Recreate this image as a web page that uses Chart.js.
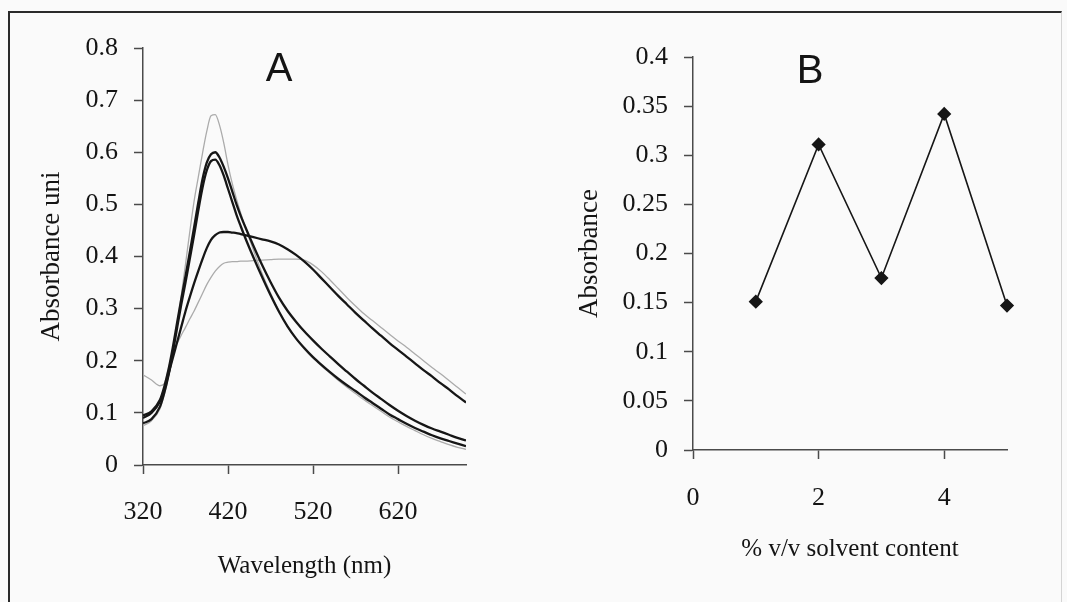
<!DOCTYPE html>
<html>
<head>
<meta charset="utf-8">
<script src="https://cdn.jsdelivr.net/npm/chart.js@4.4.1/dist/chart.umd.min.js"></script>
<style>
  html, body { margin: 0; padding: 0; background: #fafafa; }
  #page { position: relative; width: 1067px; height: 602px; overflow: hidden; background: #fafafa; }
  #frame { position: absolute; left: 8px; top: 11px; width: 1051px; height: 640px;
           border-left: 2px solid #2a2a2a; border-top: 2px solid #2a2a2a; border-right: 1px solid #d4d4d4; }
  #cA { position: absolute; left: 0; top: 0; }
  #cB { position: absolute; left: 560px; top: 0; }
</style>
</head>
<body>
<div id="page">
  <div id="frame"></div>
  <canvas id="cA" width="560" height="602"></canvas>
  <canvas id="cB" width="507" height="602"></canvas>
</div>
<script>
// ---- Panel A: absorption spectra ----
const wavelengths = [320, 330,
  340, 345, 350, 355, 360, 365, 370, 375, 380, 385, 390, 395, 400, 405, 410, 415, 420, 425, 430, 435, 440,
  450, 460, 470, 480, 490, 500, 510, 520, 530, 540, 550, 560, 570, 580, 590, 600, 610, 620, 630, 640, 650,
  660, 670, 680, 690, 700];

const spectrumGrayHigh = [0.075, 0.085,
  0.108, 0.135, 0.170, 0.215, 0.268, 0.325, 0.385, 0.447, 0.505, 0.552, 0.598, 0.640, 0.670, 0.672, 0.652,
  0.618, 0.576, 0.540, 0.510, 0.483, 0.458,
  0.412, 0.368, 0.330, 0.296, 0.266, 0.242, 0.222, 0.205, 0.190, 0.176, 0.162, 0.149, 0.137, 0.125, 0.114,
  0.103, 0.092, 0.083, 0.074, 0.066, 0.058, 0.051, 0.045, 0.039, 0.034, 0.030];

const spectrumBlack1 = [0.095, 0.103,
  0.125, 0.150, 0.183, 0.225, 0.272, 0.318, 0.362, 0.408, 0.455, 0.503, 0.548, 0.580, 0.596, 0.600, 0.590,
  0.572, 0.550, 0.525, 0.500, 0.478, 0.458,
  0.420, 0.384, 0.351, 0.321, 0.296, 0.275, 0.256, 0.239, 0.223, 0.208, 0.193, 0.179, 0.165, 0.152, 0.139,
  0.127, 0.115, 0.104, 0.094, 0.085, 0.077, 0.070, 0.064, 0.058, 0.052, 0.047];

const spectrumBlack2 = [0.080, 0.088,
  0.112, 0.138, 0.172, 0.215, 0.262, 0.308, 0.350, 0.395, 0.440, 0.488, 0.532, 0.565, 0.583, 0.586, 0.575,
  0.555, 0.530, 0.505, 0.480, 0.458, 0.437,
  0.398, 0.361, 0.326, 0.294, 0.266, 0.243, 0.224, 0.207, 0.192, 0.178, 0.165, 0.153, 0.142, 0.130, 0.119,
  0.108, 0.097, 0.088, 0.079, 0.071, 0.064, 0.057, 0.051, 0.046, 0.041, 0.036];

const spectrumBlackBroad = [0.090, 0.100,
  0.122, 0.145, 0.175, 0.205, 0.235, 0.265, 0.295, 0.322, 0.348, 0.372, 0.395, 0.416, 0.432, 0.441, 0.446,
  0.447, 0.447, 0.446, 0.445, 0.443, 0.441,
  0.437, 0.433, 0.429, 0.423, 0.414, 0.403, 0.390, 0.375, 0.358, 0.341, 0.324, 0.308, 0.292, 0.277, 0.262,
  0.248, 0.234, 0.221, 0.208, 0.195, 0.182, 0.170, 0.157, 0.145, 0.132, 0.120];

const spectrumGrayFlat = [0.173, 0.163,
  0.152, 0.156, 0.185, 0.218, 0.233, 0.249, 0.264, 0.280, 0.295, 0.312, 0.329, 0.346, 0.360, 0.372, 0.381,
  0.387, 0.389, 0.390, 0.390, 0.391, 0.391,
  0.392, 0.393, 0.394, 0.395, 0.395, 0.395, 0.393, 0.384, 0.371, 0.355, 0.338, 0.321, 0.305, 0.290, 0.277,
  0.264, 0.251, 0.238, 0.226, 0.213, 0.200, 0.187, 0.175, 0.162, 0.149, 0.136];

const wavelengthTicks = [320, 420, 520, 620];
const absorbanceTicksA = [0, 0.1, 0.2, 0.3, 0.4, 0.5, 0.6, 0.7, 0.8];

// ---- Panel B: absorbance vs solvent content ----
const solventContent = [1, 2, 3, 4, 5];
const absorbanceB = [0.151, 0.311, 0.175, 0.342, 0.147];
const solventTicks = [0, 2, 4];
const absorbanceTicksB = [0, 0.05, 0.1, 0.15, 0.2, 0.25, 0.3, 0.35, 0.4];

// ---- shared styling ----
const SERIF = '"Liberation Serif", "Times New Roman", serif';
const INK = '#141414';
const AXIS = '#4a4a4a';
const tickFont = { family: SERIF, size: 26 };
const xTitleFont = { family: SERIF, size: 25 };
const yTitleFont = { family: SERIF, size: 27 };

const fmt = v => String(+Number(v).toFixed(2));
const pts = (xs, ys) => xs.map((x, i) => ({ x: x, y: ys[i] }));

function axis(min, max, tickValues, title, titleFont, extra) {
  return Object.assign({
    type: 'linear',
    min: min,
    max: max,
    afterBuildTicks: s => { s.ticks = tickValues.map(v => ({ value: v })); },
    grid: { drawOnChartArea: false, drawTicks: true, tickLength: 9, color: AXIS, tickColor: AXIS, tickWidth: 1.5 },
    border: { display: true, color: AXIS, width: 1.5 },
    ticks: { font: tickFont, color: INK, autoSkip: false, maxRotation: 0, callback: fmt },
    title: { display: true, text: title, font: titleFont, color: INK }
  }, extra);
}

function panelLetter(letter, x, y) {
  return {
    id: 'letter' + letter,
    afterDraw(chart) {
      const ctx = chart.ctx;
      ctx.save();
      ctx.font = '40px "Liberation Sans", Arial, sans-serif';
      ctx.fillStyle = INK;
      ctx.textAlign = 'center';
      ctx.textBaseline = 'middle';
      ctx.fillText(letter, x, y);
      ctx.restore();
    }
  };
}

function line(data, color, width, order) {
  return {
    data: data, borderColor: color, borderWidth: width, pointRadius: 0,
    cubicInterpolationMode: 'monotone', fill: false, order: order
  };
}

const chartA = new Chart(document.getElementById('cA'), {
  type: 'line',
  data: {
    datasets: [
      line(pts(wavelengths, spectrumBlack1), '#161616', 2.3, 1),
      line(pts(wavelengths, spectrumBlack2), '#161616', 2.3, 2),
      line(pts(wavelengths, spectrumBlackBroad), '#161616', 2.3, 3),
      line(pts(wavelengths, spectrumGrayHigh), '#ababab', 1.3, 4),
      line(pts(wavelengths, spectrumGrayFlat), '#ababab', 1.3, 5)
    ]
  },
  options: {
    responsive: false, animation: false, devicePixelRatio: 1,
    layout: { padding: { left: 0, top: 48, right: 94, bottom: 0 } },
    plugins: { legend: { display: false }, tooltip: { enabled: false } },
    scales: {
      x: axis(320, 700, wavelengthTicks, 'Wavelength (nm)', xTitleFont, {
        afterFit: s => { s.height = 137; }
      }),
      y: axis(0, 0.8, absorbanceTicksA, 'Absorbance uni', yTitleFont, {
        afterFit: s => { s.width = 143; }
      })
    }
  },
  plugins: [panelLetter('A', 279, 70)]
});

const chartB = new Chart(document.getElementById('cB'), {
  type: 'line',
  data: {
    datasets: [{
      data: pts(solventContent, absorbanceB),
      borderColor: '#161616', borderWidth: 1.6, tension: 0,
      pointStyle: 'rectRot', pointRadius: 6, pointBackgroundColor: '#161616', pointBorderColor: '#161616',
      clip: false, fill: false
    }]
  },
  options: {
    responsive: false, animation: false, devicePixelRatio: 1,
    layout: { padding: { left: 0, top: 57, right: 60, bottom: 0 } },
    plugins: { legend: { display: false }, tooltip: { enabled: false } },
    scales: {
      x: axis(0, 5, solventTicks, '% v/v solvent content', xTitleFont, {
        afterFit: s => { s.height = 152; }
      }),
      y: axis(0, 0.4, absorbanceTicksB, 'Absorbance', yTitleFont, {
        afterFit: s => { s.width = 133; }
      })
    }
  },
  plugins: [panelLetter('B', 250, 72)]
});

// per-axis spacing of labels and titles
chartA.options.scales.x.ticks.padding = 23;
chartA.options.scales.x.title.padding = { top: 0, bottom: 21 };
chartA.options.scales.y.ticks.padding = 16;
chartA.options.scales.y.title.padding = { top: 36, bottom: 0 };
chartB.options.scales.x.ticks.padding = 24;
chartB.options.scales.x.title.padding = { top: 0, bottom: 38 };
chartB.options.scales.y.ticks.padding = 16;
chartB.options.scales.y.title.padding = { top: 14, bottom: 0 };
chartA.update();
chartB.update();
</script>
</body>
</html>
